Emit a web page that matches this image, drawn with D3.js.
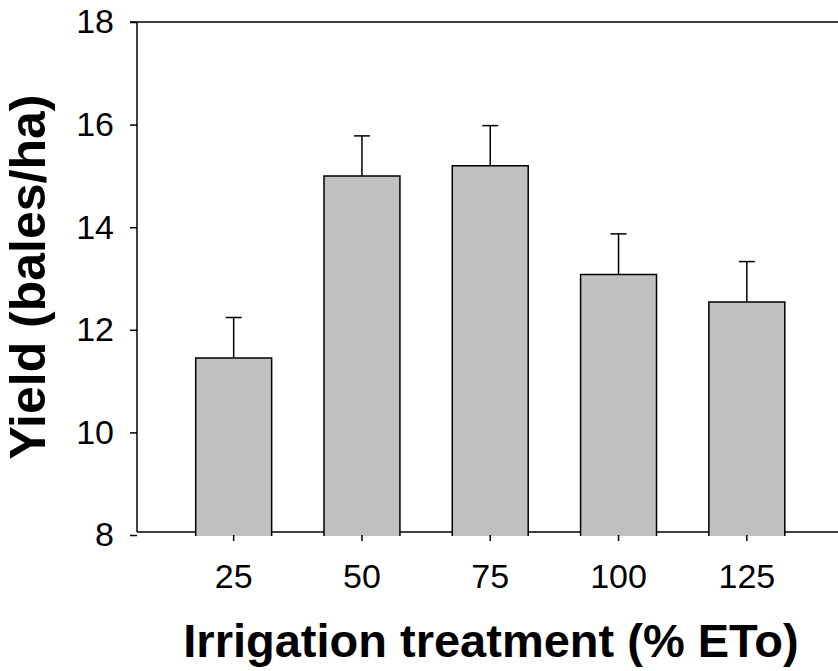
<!DOCTYPE html>
<html>
<head>
<meta charset="utf-8">
<script src="https://cdn.jsdelivr.net/npm/d3@7"></script>
<style>
  html, body { margin: 0; padding: 0; background: #fff; }
  svg { display: block; }
  text { font-family: "Liberation Sans", Arial, sans-serif; fill: #000; }
</style>
</head>
<body>
<svg id="chart" width="838" height="671"></svg>
<script>
// Yield by irrigation treatment, mean with upper error bar
const treatments = ["25", "50", "75", "100", "125"];
const yieldMeans = [11.45, 15.0, 15.2, 13.08, 12.54];
const yieldErrors = [0.79, 0.78, 0.78, 0.79, 0.79];
const yTicks = [8, 10, 12, 14, 16, 18];

const svg = d3.select("#chart");
const plotLeft = 137, plotRight = 843.5, plotTop = 22, plotBottom = 535;

const x = d3.scaleBand()
  .domain(treatments)
  .range([plotLeft, plotRight])
  .paddingInner(0.408)
  .paddingOuter(0.4575);

const y = d3.scaleLinear().domain([8, 18]).range([plotBottom, plotTop]);

// Bars: grey fill, outlined on the left, top and right sides
const bars = svg.append("g");
treatments.forEach((d, i) => {
  const x0 = x(d), x1 = x(d) + x.bandwidth();
  const yTop = y(yieldMeans[i]), yBase = y(8) + 1;
  bars.append("rect")
    .attr("x", x0).attr("width", x.bandwidth())
    .attr("y", yTop).attr("height", yBase - yTop)
    .attr("fill", "#c0c0c0");
  bars.append("path")
    .attr("d", `M${x0},${yBase}V${yTop}H${x1}V${yBase}`)
    .attr("fill", "none").attr("stroke", "#000").attr("stroke-width", 1.5);
});

// Upper error bars
const eb = svg.append("g").attr("stroke", "#000").attr("stroke-width", 1.5);
treatments.forEach((d, i) => {
  const cx = x(d) + x.bandwidth() / 2;
  const y0 = y(yieldMeans[i]);
  const y1 = y(yieldMeans[i] + yieldErrors[i]);
  eb.append("line").attr("x1", cx).attr("x2", cx).attr("y1", y0).attr("y2", y1);
  eb.append("line").attr("x1", cx - 8).attr("x2", cx + 8).attr("y1", y1).attr("y2", y1);
});

// Frame lines: top, and bottom line drawn between the bars
svg.append("line").attr("x1", plotLeft - 7).attr("x2", plotRight).attr("y1", plotTop).attr("y2", plotTop)
  .attr("stroke", "#000").attr("stroke-width", 1.5);
const baseY = plotBottom - 3;
const gaps = [plotLeft].concat(treatments.flatMap(d => [x(d), x(d) + x.bandwidth()])).concat([plotRight]);
for (let k = 0; k < gaps.length; k += 2) {
  svg.append("line").attr("x1", gaps[k]).attr("x2", gaps[k + 1]).attr("y1", baseY).attr("y2", baseY)
    .attr("stroke", "#000").attr("stroke-width", 1.5);
}

// Y axis
const yAxis = svg.append("g")
  .attr("transform", `translate(${plotLeft},0)`)
  .call(d3.axisLeft(y).tickValues(yTicks).tickFormat(d3.format("d")).tickSize(7).tickPadding(16));
yAxis.select(".domain").attr("d", `M0,${plotTop}V${baseY}`).attr("stroke-width", 1.5);
yAxis.selectAll(".tick line").attr("stroke-width", 1.5);
yAxis.selectAll(".tick text").style("font-size", "34px").attr("font-family", null);

// X axis
const xAxis = svg.append("g")
  .attr("transform", `translate(0,${plotBottom})`)
  .call(d3.axisBottom(x).tickSize(6).tickPadding(23));
xAxis.select(".domain").remove();
xAxis.selectAll(".tick line").attr("stroke-width", 1.5);
xAxis.selectAll(".tick text").style("font-size", "34px").attr("font-family", null);

// Axis titles
svg.append("text")
  .attr("x", 491).attr("y", 657)
  .attr("text-anchor", "middle")
  .style("font-size", "47px").style("font-weight", "bold")
  .text("Irrigation treatment (% ETo)");

svg.append("text")
  .attr("transform", "translate(45,277) rotate(-90)")
  .attr("text-anchor", "middle")
  .style("font-size", "50px").style("font-weight", "bold")
  .text("Yield (bales/ha)");
</script>
</body>
</html>
